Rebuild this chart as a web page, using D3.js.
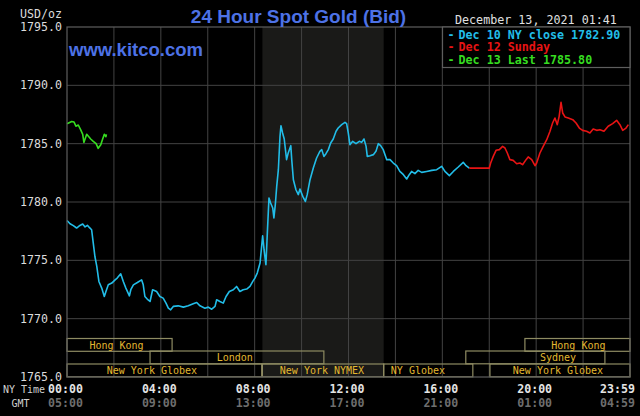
<!DOCTYPE html>
<html>
<head>
<meta charset="utf-8">
<script src="https://cdn.jsdelivr.net/npm/d3@7"></script>
<style>
  html, body { margin: 0; padding: 0; background: #000; }
  svg { display: block; }
</style>
</head>
<body>
<svg id="chart"></svg>
<script>
// Dec 10 (Friday) - NY close 1782.90
const dec10Hours = [0.00, 0.13, 0.27, 0.41, 0.55, 0.67, 0.77, 0.87, 0.95, 1.05, 1.12, 1.19, 1.27, 1.36, 1.48, 1.59, 1.66, 1.76, 1.91, 2.05,
    2.14, 2.29, 2.40, 2.51, 2.66, 2.72, 2.83, 3.00, 3.18, 3.25, 3.32, 3.42, 3.54, 3.65, 3.82, 3.96, 4.10, 4.22, 4.32, 4.42,
    4.53, 4.74, 4.96, 5.17, 5.38, 5.53, 5.67, 5.88, 6.02, 6.17, 6.31, 6.38, 6.52, 6.66, 6.78, 6.92, 7.09, 7.23, 7.37, 7.51,
    7.66, 7.80, 7.92, 8.01, 8.11, 8.23, 8.34, 8.40, 8.48, 8.54, 8.61, 8.68, 8.77, 8.82, 8.88, 8.94, 9.01, 9.08, 9.12, 9.19,
    9.26, 9.36, 9.43, 9.54, 9.58, 9.65, 9.76, 9.86, 9.93, 10.05, 10.16, 10.24, 10.36, 10.50, 10.64, 10.78, 10.86, 10.95, 11.04, 11.14,
    11.24, 11.35, 11.47, 11.56, 11.71, 11.85, 11.92, 11.99, 12.06, 12.18, 12.32, 12.46, 12.56, 12.66, 12.75, 12.80, 12.92, 13.06, 13.17, 13.27,
    13.37, 13.48, 13.63, 13.77, 13.91, 14.05, 14.19, 14.34, 14.48, 14.59, 14.69, 14.83, 14.97, 15.12, 15.33, 15.55, 15.76, 15.97, 16.11, 16.30,
    16.47, 16.68, 16.89, 17.01, 17.15];
const dec10Values = [1778.42, 1778.14, 1777.97, 1777.77, 1777.99, 1778.11, 1777.86, 1778.00, 1777.82, 1777.62, 1776.48, 1775.33, 1774.48, 1773.19, 1772.62, 1771.90, 1772.33, 1772.90, 1773.05, 1773.33,
    1773.48, 1773.85, 1773.19, 1772.62, 1771.96, 1772.48, 1772.90, 1773.10, 1773.33, 1772.90, 1771.90, 1771.68, 1771.47, 1772.48, 1772.33, 1771.90, 1771.76, 1771.33, 1770.90, 1770.76,
    1771.05, 1771.10, 1770.99, 1771.10, 1771.28, 1771.39, 1771.10, 1770.90, 1770.99, 1770.81, 1771.05, 1771.62, 1771.47, 1771.33, 1771.90, 1772.33, 1772.48, 1772.76, 1772.33, 1772.48,
    1772.54, 1772.76, 1773.19, 1773.48, 1773.91, 1774.77, 1777.11, 1775.91, 1774.62, 1777.34, 1780.34, 1779.91, 1779.49, 1778.63, 1779.77, 1781.34, 1782.77, 1785.63, 1786.54, 1785.92,
    1785.40, 1783.63, 1784.20, 1784.83, 1783.63, 1781.91, 1781.05, 1780.63, 1781.11, 1780.48, 1780.05, 1780.63, 1781.91, 1782.91, 1783.77, 1784.34, 1784.49, 1783.91, 1784.14, 1784.49,
    1785.06, 1785.40, 1786.06, 1786.34, 1786.63, 1786.83, 1786.72, 1785.92, 1784.91, 1785.20, 1785.00, 1785.20, 1785.11, 1785.40, 1784.77, 1783.91, 1783.97, 1784.06, 1784.34, 1785.00,
    1784.83, 1784.49, 1783.63, 1783.63, 1783.34, 1783.11, 1782.62, 1782.34, 1781.97, 1782.34, 1782.62, 1782.43, 1782.71, 1782.54, 1782.62, 1782.71, 1782.77, 1783.06, 1782.62, 1782.26,
    1782.62, 1783.00, 1783.40, 1783.11, 1782.90];

// Dec 12 (Sunday)
const dec12Hours = [17.15, 18.00, 18.06, 18.17, 18.29, 18.43, 18.57, 18.67, 18.77, 18.88, 19.02, 19.17, 19.31, 19.42, 19.57, 19.66, 19.81, 19.95, 20.02, 20.16,
    20.30, 20.45, 20.59, 20.70, 20.80, 20.90, 20.98, 21.06, 21.13, 21.23, 21.37, 21.56, 21.70, 21.84, 21.98, 22.15, 22.29, 22.43, 22.58, 22.72,
    22.89, 23.07, 23.26, 23.43, 23.57, 23.69, 23.83, 23.93];
const dec12Values = [1782.90, 1782.90, 1783.34, 1783.91, 1784.43, 1784.49, 1784.77, 1784.63, 1784.20, 1783.63, 1783.57, 1783.28, 1783.34, 1783.20, 1783.63, 1783.86, 1783.63, 1783.11, 1783.34, 1784.20,
    1784.77, 1785.34, 1786.06, 1786.77, 1787.20, 1786.63, 1787.34, 1788.54, 1787.63, 1787.29, 1787.20, 1787.06, 1786.77, 1786.34, 1786.14, 1786.06, 1785.92, 1786.26, 1786.14, 1786.20,
    1786.06, 1786.49, 1786.72, 1787.00, 1786.63, 1786.14, 1786.34, 1786.63];

// Dec 13 - last 1785.80
const dec13Hours = [0.00, 0.20, 0.30, 0.38, 0.48, 0.58, 0.67, 0.72, 0.84, 1.01, 1.12, 1.24, 1.33, 1.44, 1.52, 1.59, 1.66, 1.68];
const dec13Values = [1786.70, 1786.90, 1786.85, 1786.50, 1786.60, 1786.20, 1785.80, 1785.10, 1785.80, 1785.40, 1785.20, 1785.00, 1784.60, 1784.90, 1785.40, 1785.80, 1785.60, 1785.80];

const yTicks = [1765, 1770, 1775, 1780, 1785, 1790, 1795];
const timeTicks = [0, 4, 8, 12, 16, 20, 23.98];
const nyTimeLabels = ["00:00", "04:00", "08:00", "12:00", "16:00", "20:00", "23:59"];
const gmtLabels = ["05:00", "09:00", "13:00", "17:00", "21:00", "01:00", "04:59"];

const legendLabels = ["Dec 10 NY close 1782.90", "Dec 12 Sunday", "Dec 13 Last 1785.80"];
const seriesColors = ["#22bde8", "#e81414", "#36dc20"];

// trading sessions: name, start hour, end hour, row, label hour
const sessionNames = ["Hong Kong", "London", "New York Globex", "New York NYMEX", "NY Globex", "Sydney", "New York Globex", "Hong Kong"];
const sessionStart = [0, 3.54, 0, 8.33, 13.5, 17.0, 18.03, 19.52];
const sessionEnd = [4.48, 10.95, 8.3, 13.5, 17.3, 22.93, 24, 24];
const sessionRow = [0, 1, 2, 2, 2, 1, 2, 0];
const sessionLabelAt = [2.11, 7.15, 3.62, 10.87, 14.96, 20.93, 20.93, 21.8];

const nymexBand = [8.33, 13.5];

const svgWidth = 640, svgHeight = 416;
const plotLeft = 67, plotRight = 630, plotTop = 27, plotBottom = 377;
const mono = "'DejaVu Sans Mono', monospace";

const svg = d3.select('#chart')
    .attr("width", svgWidth)
    .attr("height", svgHeight)
    .style("background", "#000");

const x = d3.scaleLinear().domain([0, 24]).range([plotLeft, plotRight]);
const y = d3.scaleLinear().domain([1765, 1795]).range([plotBottom, plotTop]);

svg.append("rect")
    .attr("width", svgWidth).attr("height", svgHeight)
    .attr("fill", "#000");

// NYMEX trading band
svg.append("rect")
    .attr("x", x(nymexBand[0]))
    .attr("y", plotTop)
    .attr("width", x(nymexBand[1]) - x(nymexBand[0]))
    .attr("height", plotBottom - plotTop)
    .attr("fill", "#1a1a18");

// grid
const gridHours = d3.range(2, 24, 2);
svg.selectAll(".vgrid")
    .data(gridHours)
    .enter()
    .append("line")
    .attr("x1", d => x(d)).attr("x2", d => x(d))
    .attr("y1", plotTop).attr("y2", plotBottom)
    .attr("stroke", "#434343")
    .attr("stroke-width", 1);

svg.selectAll(".hgrid")
    .data(yTicks.slice(1, -1))
    .enter()
    .append("line")
    .attr("x1", plotLeft).attr("x2", plotRight)
    .attr("y1", d => y(d)).attr("y2", d => y(d))
    .attr("stroke", "#434343")
    .attr("stroke-width", 1);

// session boxes
const rowTop = [338.5, 351, 364];
const rowH = 12.8;
const sessions = sessionNames.map((name, i) => ({
    name: name, start: sessionStart[i], end: sessionEnd[i], row: sessionRow[i], at: sessionLabelAt[i]
}));

svg.selectAll(".session")
    .data(sessions)
    .enter()
    .append("rect")
    .attr("x", d => x(d.start))
    .attr("y", d => rowTop[d.row])
    .attr("width", d => x(d.end) - x(d.start))
    .attr("height", rowH)
    .attr("fill", "none")
    .attr("stroke", "#8e8b62")
    .attr("stroke-width", 1.2);

svg.selectAll(".sessionLabel")
    .data(sessions)
    .enter()
    .append("text")
    .attr("x", d => x(d.at))
    .attr("y", d => rowTop[d.row] + rowH / 2 + 0.5)
    .attr("text-anchor", "middle")
    .attr("dominant-baseline", "central")
    .style("font-family", mono)
    .style("font-size", "10px")
    .style("fill", "#e2b830")
    .text(d => d.name);

// price lines
const line = d3.line()
    .x(d => x(d[0]))
    .y(d => y(d[1]));

const series = [
    d3.zip(dec10Hours, dec10Values),
    d3.zip(dec12Hours, dec12Values),
    d3.zip(dec13Hours, dec13Values)
];

svg.selectAll(".series")
    .data(series)
    .enter()
    .append("path")
    .attr("d", d => line(d))
    .attr("fill", "none")
    .attr("stroke", (d, i) => seriesColors[i])
    .attr("stroke-width", 1.6)
    .attr("stroke-linejoin", "round");

// plot border
svg.append("rect")
    .attr("x", plotLeft).attr("y", plotTop)
    .attr("width", plotRight - plotLeft).attr("height", plotBottom - plotTop)
    .attr("fill", "none")
    .attr("stroke", "#5e5e5e")
    .attr("stroke-width", 1.2);

// y axis labels
svg.selectAll(".ylabel")
    .data(yTicks)
    .enter()
    .append("text")
    .attr("x", 62)
    .attr("y", d => y(d))
    .attr("text-anchor", "end")
    .attr("dominant-baseline", "central")
    .style("font-family", mono)
    .style("font-size", "11.6px")
    .style("fill", "#dcdcdc")
    .text(d => d3.format(".1f")(d));

svg.append("text")
    .attr("x", 62).attr("y", 14)
    .attr("text-anchor", "end")
    .attr("dominant-baseline", "central")
    .style("font-family", mono)
    .style("font-size", "11.6px")
    .style("fill", "#dcdcdc")
    .text("USD/oz");

// time labels
svg.selectAll(".nylabel")
    .data(timeTicks)
    .enter()
    .append("text")
    .attr("x", (d, i) => i == timeTicks.length - 1 ? 635 : x(d) - 1.5)
    .attr("y", 389)
    .attr("text-anchor", (d, i) => i == timeTicks.length - 1 ? "end" : "middle")
    .attr("dominant-baseline", "central")
    .style("font-family", mono)
    .style("font-size", "11.6px")
    .style("font-weight", "bold")
    .style("fill", "#e4e4e4")
    .text((d, i) => nyTimeLabels[i]);

svg.selectAll(".gmtlabel")
    .data(timeTicks)
    .enter()
    .append("text")
    .attr("x", (d, i) => i == timeTicks.length - 1 ? 635 : x(d) - 1.5)
    .attr("y", 403)
    .attr("text-anchor", (d, i) => i == timeTicks.length - 1 ? "end" : "middle")
    .attr("dominant-baseline", "central")
    .style("font-family", mono)
    .style("font-size", "11.6px")
    .style("font-weight", "bold")
    .style("fill", "#6e6e6e")
    .text((d, i) => gmtLabels[i]);

svg.append("text")
    .attr("x", 3).attr("y", 389.5)
    .attr("dominant-baseline", "central")
    .style("font-family", mono)
    .style("font-size", "10px")
    .style("fill", "#d0d0d0")
    .text("NY Time");

svg.append("text")
    .attr("x", 11.5).attr("y", 403)
    .attr("dominant-baseline", "central")
    .style("font-family", mono)
    .style("font-size", "10px")
    .style("fill", "#d0d0d0")
    .text("GMT");

// titles
svg.append("text")
    .attr("x", 298.5).attr("y", 22.5)
    .attr("text-anchor", "middle")
    .style("font-family", "'Liberation Sans', Arial, sans-serif")
    .style("font-size", "19px")
    .style("font-weight", "bold")
    .style("fill", "#4d72e6")
    .text("24 Hour Spot Gold (Bid)");

svg.append("text")
    .attr("x", 69).attr("y", 56)
    .style("font-family", "'Liberation Sans', Arial, sans-serif")
    .style("font-size", "18.5px")
    .style("font-weight", "bold")
    .style("fill", "#4d72e6")
    .text("www.kitco.com");

svg.append("text")
    .attr("x", 455).attr("y", 20)
    .attr("dominant-baseline", "central")
    .style("font-family", mono)
    .style("font-size", "11.7px")
    .style("fill", "#e0e0e0")
    .text("December 13, 2021 01:41");

// legend
svg.append("rect")
    .attr("x", 442.5).attr("y", plotTop)
    .attr("width", plotRight - 442.5).attr("height", 40.5)
    .attr("fill", "#000")
    .attr("stroke", "#5e5e5e")
    .attr("stroke-width", 1.2);

const legendY = [34.5, 47, 60];
svg.selectAll(".legdash")
    .data(legendLabels)
    .enter()
    .append("text")
    .attr("x", 447.5)
    .attr("y", (d, i) => legendY[i])
    .attr("dominant-baseline", "central")
    .style("font-family", mono)
    .style("font-size", "11.7px")
    .style("font-weight", "bold")
    .style("fill", (d, i) => seriesColors[i])
    .text("-");

svg.selectAll(".legtext")
    .data(legendLabels)
    .enter()
    .append("text")
    .attr("x", 458.5)
    .attr("y", (d, i) => legendY[i])
    .attr("dominant-baseline", "central")
    .style("font-family", mono)
    .style("font-size", "11.7px")
    .style("font-weight", "bold")
    .style("fill", (d, i) => seriesColors[i])
    .text(d => d);
</script>
</body>
</html>
